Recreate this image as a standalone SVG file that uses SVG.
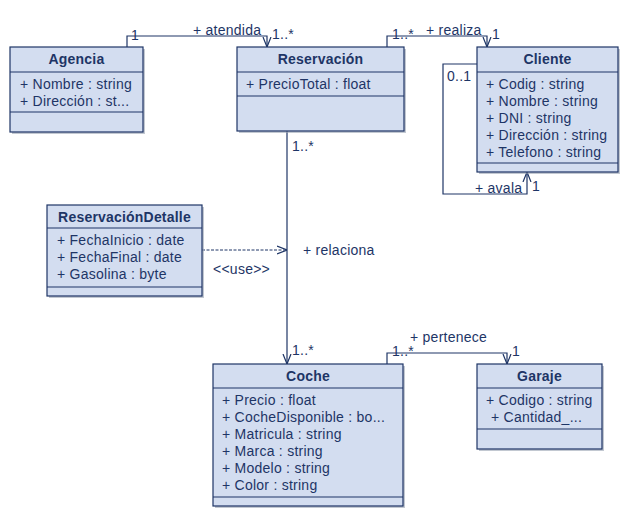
<svg xmlns="http://www.w3.org/2000/svg" width="630" height="518" viewBox="0 0 630 518">
<defs>
<style>
.box{fill:#d3ddf0;stroke:#1e3566;stroke-width:1.2}
.sh{fill:#9aa3b3;opacity:0.6}
.sep{stroke:#1e3566;stroke-width:1.2}
.t{font-family:"Liberation Sans",Arial,sans-serif;font-size:14px;letter-spacing:0.2px;font-weight:bold;fill:#1e3566;text-anchor:middle}
.a{font-family:"Liberation Sans",Arial,sans-serif;font-size:14px;letter-spacing:0.25px;fill:#1e3566}
.lbl{font-family:"Liberation Sans",Arial,sans-serif;font-size:14px;letter-spacing:0.25px;fill:#1e3566}
.ln{fill:none;stroke:#1e3566;stroke-width:1.2}
.dash{fill:none;stroke:#1e3566;stroke-width:1;stroke-dasharray:3,1.5}
</style>
<marker id="arr" viewBox="0 0 10 10" refX="10" refY="5" markerWidth="10" markerHeight="10" markerUnits="userSpaceOnUse" orient="auto">
<path d="M0,1 L10,5 L0,9" fill="none" stroke="#1e3566" stroke-width="1.2"/>
</marker>
</defs>
<rect width="630" height="518" fill="#ffffff"/>

<g id="connectors">
<polyline class="ln" points="127,47 127,36 267,36 267,47" marker-end="url(#arr)"/>
<text class="lbl" x="193" y="35">+ atendida</text>
<text class="lbl" x="131" y="40">1</text>
<text class="lbl" x="272" y="39">1..*</text>

<polyline class="ln" points="387,47 387,36 487,36 487,47" marker-end="url(#arr)"/>
<text class="lbl" x="392" y="39">1..*</text>
<text class="lbl" x="426" y="35">+ realiza</text>
<text class="lbl" x="492" y="39">1</text>

<polyline class="ln" points="477,64 443,64 443,194 527,194 527,172" marker-end="url(#arr)"/>
<text class="lbl" x="447" y="81">0..1</text>
<text class="lbl" x="475" y="193">+ avala</text>
<text class="lbl" x="532" y="191">1</text>

<line class="ln" x1="287" y1="131" x2="287" y2="364" marker-end="url(#arr)"/>
<text class="lbl" x="292" y="151">1..*</text>
<text class="lbl" x="292" y="355">1..*</text>
<text class="lbl" x="303" y="255">+ relaciona</text>

<line class="dash" x1="202" y1="250" x2="287" y2="250" marker-end="url(#arr)"/>
<text class="lbl" x="213" y="274">&lt;&lt;use&gt;&gt;</text>

<polyline class="ln" points="387,364 387,353 507,353 507,364" marker-end="url(#arr)"/>
<text class="lbl" x="410" y="342">+ pertenece</text>
<text class="lbl" x="392" y="356">1..*</text>
<text class="lbl" x="512" y="356">1</text>
</g>

<g id="agencia">
<rect class="sh" x="12" y="49" width="133" height="85"/>
<rect class="box" x="10" y="47" width="133" height="85"/>
<line class="sep" x1="10" y1="72" x2="143" y2="72"/>
<line class="sep" x1="10" y1="112" x2="143" y2="112"/>
<text class="t" x="76.5" y="64">Agencia</text>
<text class="a" x="20" y="89">+ Nombre : string</text>
<text class="a" x="20" y="106">+ Dirección : st...</text>
</g>

<g id="reservacion">
<rect class="sh" x="239" y="49" width="167" height="84"/>
<rect class="box" x="237" y="47" width="167" height="84"/>
<line class="sep" x1="237" y1="72" x2="404" y2="72"/>
<line class="sep" x1="237" y1="96" x2="404" y2="96"/>
<text class="t" x="320.5" y="64">Reservación</text>
<text class="a" x="246" y="89">+ PrecioTotal : float</text>
</g>

<g id="cliente">
<rect class="sh" x="479" y="49" width="141" height="125"/>
<rect class="box" x="477" y="47" width="141" height="125"/>
<line class="sep" x1="477" y1="72" x2="618" y2="72"/>
<line class="sep" x1="477" y1="163" x2="618" y2="163"/>
<text class="t" x="547.5" y="64">Cliente</text>
<text class="a" x="486" y="89">+ Codig : string</text>
<text class="a" x="486" y="106">+ Nombre : string</text>
<text class="a" x="486" y="123">+ DNI : string</text>
<text class="a" x="486" y="140">+ Dirección : string</text>
<text class="a" x="486" y="157">+ Telefono : string</text>
</g>

<g id="reservaciondetalle">
<rect class="sh" x="49" y="207" width="155" height="91"/>
<rect class="box" x="47" y="205" width="155" height="91"/>
<line class="sep" x1="47" y1="228" x2="202" y2="228"/>
<line class="sep" x1="47" y1="287" x2="202" y2="287"/>
<text class="t" x="124.5" y="222">ReservaciónDetalle</text>
<text class="a" x="57" y="245">+ FechaInicio : date</text>
<text class="a" x="57" y="262">+ FechaFinal : date</text>
<text class="a" x="57" y="279">+ Gasolina : byte</text>
</g>

<g id="coche">
<rect class="sh" x="215" y="366" width="190" height="142"/>
<rect class="box" x="213" y="364" width="190" height="142"/>
<line class="sep" x1="213" y1="388" x2="403" y2="388"/>
<line class="sep" x1="213" y1="497" x2="403" y2="497"/>
<text class="t" x="308" y="381">Coche</text>
<text class="a" x="222" y="405">+ Precio : float</text>
<text class="a" x="222" y="422">+ CocheDisponible : bo...</text>
<text class="a" x="222" y="439">+ Matricula : string</text>
<text class="a" x="222" y="456">+ Marca : string</text>
<text class="a" x="222" y="473">+ Modelo : string</text>
<text class="a" x="222" y="490">+ Color : string</text>
</g>

<g id="garaje">
<rect class="sh" x="479" y="366" width="125" height="85"/>
<rect class="box" x="477" y="364" width="125" height="85"/>
<line class="sep" x1="477" y1="388" x2="602" y2="388"/>
<line class="sep" x1="477" y1="429" x2="602" y2="429"/>
<text class="t" x="539.5" y="381">Garaje</text>
<text class="a" x="486" y="405">+ Codigo : string</text>
<text class="a" x="491" y="422">+ Cantidad_...</text>
</g>
</svg>
